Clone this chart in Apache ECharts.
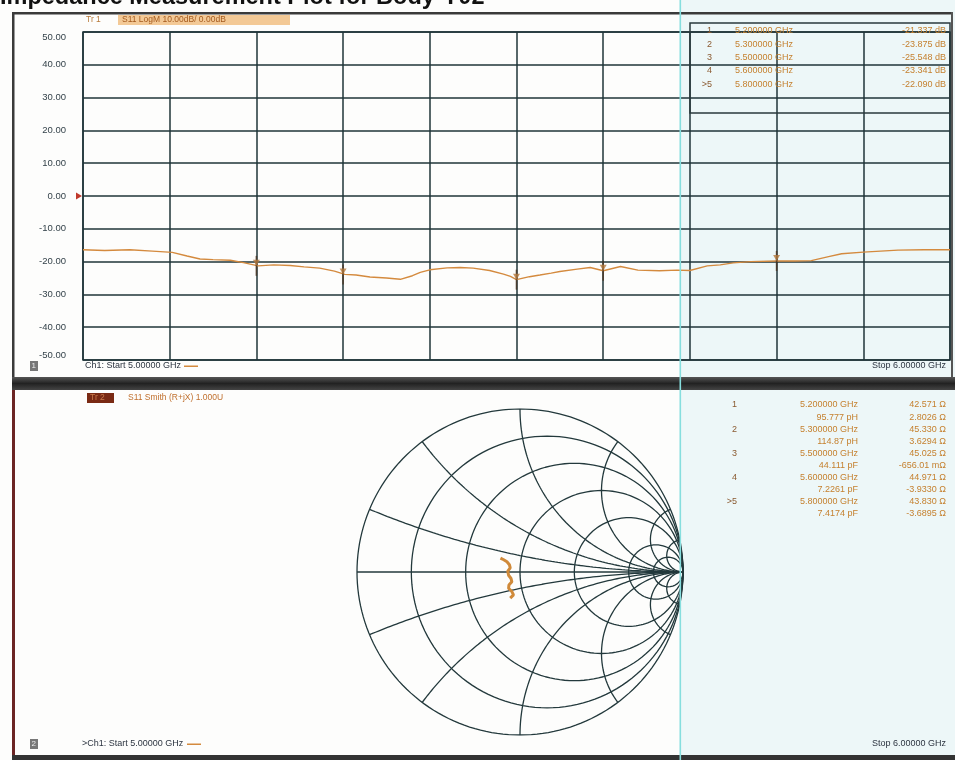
<!DOCTYPE html>
<html>
<head>
<meta charset="utf-8">
<script src="https://cdn.jsdelivr.net/npm/echarts@6/dist/echarts.min.js"></script>
<style>
html, body { margin: 0; padding: 0; background: #fdfdfc; }
#chart { width: 955px; height: 760px; }
</style>
</head>
<body>
<div id="chart"></div>
<script>
// S11 log magnitude trace (MHz / dB)
const freqMHz = [5000, 5025, 5054, 5080, 5103, 5120, 5135, 5150, 5170, 5185, 5202, 5220, 5239, 5255, 5273, 5290,
    5302, 5315, 5331, 5350, 5366, 5380, 5389, 5400, 5420, 5435, 5450, 5469, 5485, 5493, 5500, 5515, 5527, 5540,
    5550, 5570, 5585, 5600, 5620, 5640, 5665, 5685, 5700, 5720, 5735, 5750, 5770, 5800, 5820, 5840, 5860, 5875,
    5900, 5940, 5970, 6000];
const s11Db = [-16.4, -16.6, -16.4, -16.8, -17.2, -18.3, -19.2, -19.4, -19.6, -20.3, -21.3, -21.0, -21.2, -21.6,
    -22.0, -22.9, -23.9, -24.1, -24.7, -25.0, -25.4, -24.3, -23.3, -22.5, -21.9, -21.8, -22.0, -22.7, -23.8, -24.5,
    -25.5, -24.6, -24.1, -23.5, -23.0, -22.3, -21.8, -22.8, -21.5, -22.6, -22.8, -22.6, -22.7, -21.3, -21.0, -20.4,
    -20.0, -19.8, -19.8, -19.7, -18.5, -17.6, -17.1, -16.5, -16.4, -16.4];

// markers
const markerNames = ['1', '2', '3', '4', '>5'];
const markerMHz = [5200, 5300, 5500, 5600, 5800];
const markerTraceDb = [-21.3, -23.9, -25.5, -22.8, -19.8];
const markerFreqText = ['5.200000 GHz', '5.300000 GHz', '5.500000 GHz', '5.600000 GHz', '5.800000 GHz'];
const markerDbText = ['-21.337 dB', '-23.875 dB', '-25.548 dB', '-23.341 dB', '-22.090 dB'];

// smith chart readout
const smithLine1 = ['5.200000 GHz', '5.300000 GHz', '5.500000 GHz', '5.600000 GHz', '5.800000 GHz'];
const smithLine2 = ['95.777 pH', '114.87 pH', '44.111 pF', '7.2261 pF', '7.4174 pF'];
const smithRes = ['42.571 Ω', '45.330 Ω', '45.025 Ω', '44.971 Ω', '43.830 Ω'];
const smithReact = ['2.8026 Ω', '3.6294 Ω', '-656.01 mΩ', '-3.9330 Ω', '-3.6895 Ω'];

// smith grid: resistance circles and reactance arcs
const smithR = [0.2, 0.5, 1, 2, 5, 10];
const smithX = [0.2, 0.5, 1, 2, 5, 10];

// S11 trace on the smith chart (reflection coefficient re / im)
const smithTrace = [[-0.12, 0.085], [-0.10, 0.075], [-0.08, 0.063], [-0.065, 0.045], [-0.06, 0.025],
    [-0.075, 0.005], [-0.07, -0.02], [-0.055, -0.04], [-0.05, -0.06], [-0.068, -0.08], [-0.07, -0.1],
    [-0.05, -0.12], [-0.04, -0.14], [-0.06, -0.16]];

const gridColor = '#1f3538';
const traceColor = '#d48a3e';
const textColor = '#c5812f';

function arc(cx, cy, rad, t0, t1, n) {
    let pts = [];
    for (let i = 0; i <= n; i++) {
        let t = t0 + (t1 - t0) * i / n;
        pts.push([cx + rad * Math.cos(t), cy + rad * Math.sin(t)]);
    }
    return pts;
}

let smithSeries = [];
function smithLine(pts) {
    smithSeries.push({
        type: 'line', xAxisIndex: 1, yAxisIndex: 1, data: pts, showSymbol: false, silent: true,
        lineStyle: { color: '#23393c', width: 1.3 }, z: 1
    });
}
smithLine(arc(0, 0, 1, 0, Math.PI * 2, 180));
smithLine([[-1, 0], [1, 0]]);
for (let i = 0; i < smithR.length; i++) {
    let r = smithR[i];
    smithLine(arc(r / (1 + r), 0, 1 / (1 + r), 0, Math.PI * 2, 140));
}
for (let i = 0; i < smithX.length; i++) {
    let x = smithX[i];
    let ix = (x * x - 1) / (x * x + 1), iy = 2 * x / (x * x + 1);
    let tEnd = Math.atan2(iy - 1 / x, ix - 1);
    if (tEnd > -Math.PI / 2) tEnd -= Math.PI * 2;
    let up = arc(1, 1 / x, 1 / x, -Math.PI / 2, tEnd, 100);
    smithLine(up);
    smithLine(up.map(p => [p[0], -p[1]]));
}

let chart = echarts.init(document.getElementById('chart'));

let txt = (x, y, text, opt) => ({
    type: 'text', x: x, y: y, z: 20,
    style: Object.assign({ text: text, fontSize: 9, fontFamily: 'Liberation Sans', fill: textColor, verticalAlign: 'middle' }, opt || {})
});

let graphics = [
    // pale tint right of the scan fold
    { type: 'rect', shape: { x: 681, y: 0, width: 274, height: 760 }, style: { fill: 'rgba(205,235,240,0.35)' }, z: -10, silent: true },
    // title (cut off at top)
    { type: 'text', x: 0, y: -14, z: 20, style: { text: 'Impedance Measurement Plot for Body-Y02', fontSize: 23.5, fontWeight: 'bold', fontFamily: 'Liberation Sans', fill: '#111' } },
    // frames
    { type: 'rect', shape: { x: 13, y: 12, width: 940, height: 2.5 }, style: { fill: '#3a3a3a' }, z: 15 },
    { type: 'rect', shape: { x: 12, y: 12, width: 2.5, height: 368 }, style: { fill: '#3a3a3a' }, z: 15 },
    { type: 'rect', shape: { x: 951, y: 12, width: 2, height: 368 }, style: { fill: '#555' }, z: 15 },
    { type: 'rect', shape: { x: 12, y: 377, width: 943, height: 13 },
        style: { fill: new echarts.graphic.LinearGradient(0, 0, 0, 1, [{ offset: 0, color: '#555' }, { offset: 0.5, color: '#222' }, { offset: 1, color: '#444' }]) }, z: 15 },
    { type: 'rect', shape: { x: 12, y: 390, width: 3, height: 368 }, style: { fill: '#6b2424' }, z: 15 },
    { type: 'rect', shape: { x: 12, y: 755, width: 943, height: 5 }, style: { fill: '#333' }, z: 15 },
    // trace 1 header
    { type: 'rect', shape: { x: 118, y: 15, width: 172, height: 10 }, style: { fill: '#f3c996' }, z: 16 },
    txt(86, 20, 'Tr 1', { fill: '#b87a3a', fontSize: 8.5 }),
    txt(122, 20, 'S11 LogM 10.00dB/ 0.00dB', { fill: '#a45a1e', fontSize: 8.5 }),
    // trace 2 header
    { type: 'rect', shape: { x: 87, y: 393, width: 27, height: 10 }, style: { fill: '#7a2a14' }, z: 16 },
    txt(90, 398, 'Tr 2', { fill: '#c97a4a', fontSize: 8.5 }),
    txt(128, 398, 'S11 Smith (R+jX) 1.000U', { fill: '#c0702e', fontSize: 8.5 }),
    // top marker table box
    { type: 'rect', shape: { x: 690, y: 23, width: 260, height: 90 }, style: { fill: 'none', stroke: '#2a3a3c', lineWidth: 1.5 }, z: 16 },
    // footers
    { type: 'rect', shape: { x: 30, y: 361, width: 8, height: 10 }, style: { fill: '#777' }, z: 16 },
    txt(31.5, 366, '1', { fill: '#eee', fontSize: 8 }),
    txt(85, 366, 'Ch1: Start 5.00000 GHz', { fill: '#2c3440', fontSize: 9 }),
    { type: 'rect', shape: { x: 184, y: 365.5, width: 14, height: 1.5 }, style: { fill: traceColor }, z: 16 },
    txt(946, 366, 'Stop 6.00000 GHz', { fill: '#2c3440', fontSize: 9, align: 'right' }),
    { type: 'rect', shape: { x: 30, y: 739, width: 8, height: 10 }, style: { fill: '#777' }, z: 16 },
    txt(31.5, 744, '2', { fill: '#eee', fontSize: 8 }),
    txt(82, 744, '>Ch1: Start 5.00000 GHz', { fill: '#2c3440', fontSize: 9 }),
    { type: 'rect', shape: { x: 187, y: 743.5, width: 14, height: 1.5 }, style: { fill: traceColor }, z: 16 },
    txt(946, 744, 'Stop 6.00000 GHz', { fill: '#2c3440', fontSize: 9, align: 'right' }),
    // scan fold line
    { type: 'rect', shape: { x: 679.5, y: 0, width: 1.6, height: 760 }, style: { fill: '#86dede' }, z: 30 }
];

for (let i = 0; i < markerNames.length; i++) {
    let y = 31 + 13.3 * i;
    graphics.push(txt(712, y, markerNames[i], { fill: '#8a5a30', align: 'right' }));
    graphics.push(txt(793, y, markerFreqText[i], { align: 'right' }));
    graphics.push(txt(946, y, markerDbText[i], { align: 'right' }));
}
for (let i = 0; i < markerNames.length; i++) {
    let y = 405 + 24.2 * i;
    graphics.push(txt(737, y, markerNames[i], { fill: '#8a5a30', align: 'right' }));
    graphics.push(txt(858, y, smithLine1[i], { align: 'right' }));
    graphics.push(txt(946, y, smithRes[i], { align: 'right' }));
    graphics.push(txt(858, y + 12.1, smithLine2[i], { align: 'right' }));
    graphics.push(txt(946, y + 12.1, smithReact[i], { align: 'right' }));
}

chart.setOption({
    animation: false,
    backgroundColor: 'transparent',
    grid: [
        { left: 83, top: 32, width: 867, height: 328, show: true, borderColor: gridColor, borderWidth: 1.5 },
        { left: 357, top: 409, width: 326, height: 326 }
    ],
    xAxis: [
        {
            gridIndex: 0, type: 'value', min: 5000, max: 6000, interval: 100,
            axisLabel: { show: false }, axisTick: { show: false }, axisLine: { show: false },
            splitLine: { show: true, lineStyle: { color: gridColor, width: 1.5 } }
        },
        { gridIndex: 1, type: 'value', min: -1, max: 1, show: false }
    ],
    yAxis: [
        {
            gridIndex: 0, type: 'value', min: -50, max: 50, interval: 10,
            axisLabel: {
                formatter: v => v.toFixed(2), color: '#34424a', fontSize: 9.5, fontFamily: 'Liberation Sans', margin: 17,
                verticalAlignMaxLabel: 'top', verticalAlignMinLabel: 'bottom'
            },
            axisTick: { show: false }, axisLine: { show: false },
            splitLine: { show: true, lineStyle: { color: gridColor, width: 1.5 } }
        },
        { gridIndex: 1, type: 'value', min: -1, max: 1, show: false }
    ],
    series: [
        {
            type: 'line', xAxisIndex: 0, yAxisIndex: 0,
            data: freqMHz.map((f, i) => [f, s11Db[i]]),
            showSymbol: false, lineStyle: { color: traceColor, width: 1.4 }, z: 5,
            markPoint: {
                symbol: 'triangle', symbolSize: [7, 6], symbolRotate: -90, symbolOffset: [-4, 0],
                itemStyle: { color: '#c0392b' }, label: { show: false },
                data: [{ coord: [5000, 0] }]
            }
        },
        {
            type: 'scatter', xAxisIndex: 0, yAxisIndex: 0,
            data: markerMHz.map((f, i) => [f, markerTraceDb[i]]),
            symbol: 'rect', symbolSize: [1.6, 20], itemStyle: { color: '#4a3422' }, z: 6
        },
        {
            type: 'scatter', xAxisIndex: 0, yAxisIndex: 0,
            data: markerMHz.map((f, i) => [f, markerTraceDb[i]]),
            symbol: 'triangle', symbolSize: [7, 6], symbolRotate: 180, symbolOffset: [0, -3],
            itemStyle: { color: '#b5793c' }, z: 7
        },
        ...smithSeries,
        {
            type: 'line', xAxisIndex: 1, yAxisIndex: 1, data: smithTrace,
            showSymbol: false, lineStyle: { color: '#d08a3a', width: 3 }, z: 5
        }
    ],
    graphic: graphics
});
</script>
</body>
</html>
